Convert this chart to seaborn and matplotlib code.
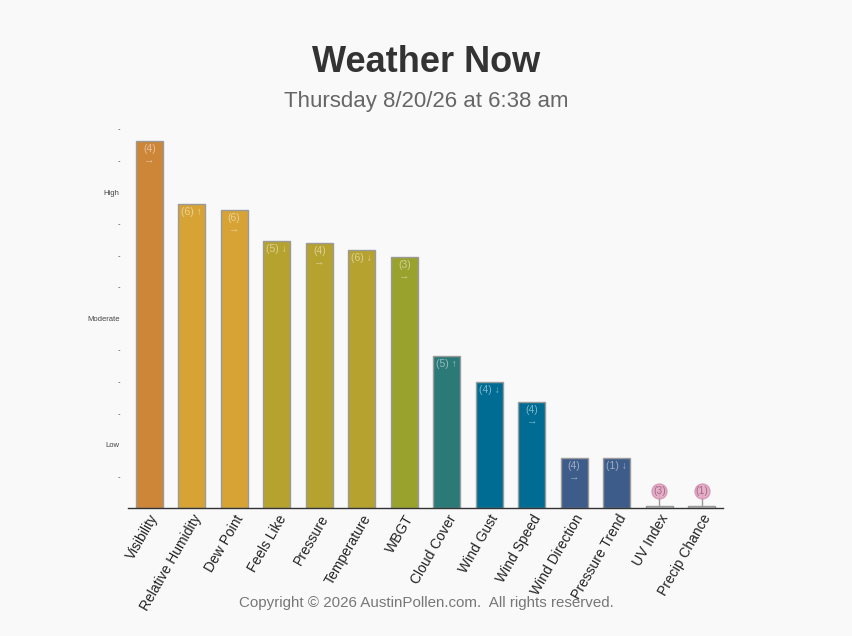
import matplotlib
matplotlib.use("Agg")
import matplotlib.pyplot as plt
import seaborn as sns
import pandas as pd

categories = ["Visibility", "Relative Humidity", "Dew Point", "Feels Like", "Pressure",
              "Temperature", "WBGT", "Cloud Cover", "Wind Gust", "Wind Speed",
              "Wind Direction", "Pressure Trend", "UV Index", "Precip Chance"]
values = [11.62, 9.63, 9.44, 8.45, 8.39, 8.17, 7.95, 4.81, 3.99, 3.36, 1.58, 1.58, 0.05, 0.05]
bar_labels = ["(4)\n→", "(6) ↑", "(6)\n→", "(5) ↓", "(4)\n→", "(6) ↓", "(3)\n→",
              "(5) ↑", "(4) ↓", "(4)\n→", "(4)\n→", "(1) ↓", "(3)", "(1)"]
colors = ["#CD8537", "#D6A334", "#D6A334", "#B6A22F", "#B6A22F", "#B6A22F", "#9AA22E",
          "#2B7A78", "#006C93", "#006C93", "#3E5C8A", "#3E5C8A", "#C8C8C8", "#C8C8C8"]
ytick_vals = list(range(1, 13))
ytick_text = ["-", "Low", "-", "-", "-", "Moderate", "-", "-", "-", "High", "-", "-"]

title = "Weather Now"
subtitle = "Thursday 8/20/26 at 6:38 am"
footer = "Copyright © 2026 AustinPollen.com.  All rights reserved."

sns.set_theme(style="white")
plt.rcParams["font.family"] = ["Liberation Sans", "DejaVu Sans"]
bg = "#F9F9F9"

fig = plt.figure(figsize=(8.52, 6.36), dpi=100, facecolor=bg)
ax = fig.add_axes([128 / 852, 1 - 508 / 636, 595 / 852, (508 - 129) / 636])
ax.set_facecolor(bg)

df = pd.DataFrame({"cat": categories, "val": values})
sns.barplot(data=df, x="cat", y="val", hue="cat", palette=colors, legend=False,
            width=0.635, edgecolor="#9A9A9A", linewidth=1.0, ax=ax, saturation=1)

ax.set_xlim(-0.5, len(categories) - 0.5)
ax.set_ylim(0, 12)
ax.set_xlabel("")
ax.set_ylabel("")

for i, (p, lab, v) in enumerate(zip(ax.patches, bar_labels, values)):
    xc = p.get_x() + p.get_width() / 2
    if v < 0.5:
        ax.plot([xc, xc], [0, 0.55], color="#999999", lw=1, zorder=3)
        ax.scatter([xc], [0.55], s=115, color="#E3A3C1", edgecolor="#D490B2",
                   linewidth=1, zorder=4, alpha=0.85)
        ax.text(xc, 0.55, lab, ha="center", va="center", fontsize=7.5,
                color="#A56A88", zorder=5)
    else:
        ax.annotate(lab, (xc, v), xytext=(0, -2), textcoords="offset points",
                    ha="center", va="top", fontsize=7.5, color="white", alpha=0.5,
                    linespacing=1.2)

ax.set_yticks(ytick_vals)
ax.set_yticklabels(ytick_text, fontsize=5.5, color="#444444")
ax.tick_params(axis="y", length=0, pad=6)
ax.tick_params(axis="x", length=0, pad=3)
ax.set_xticks(range(len(categories)))
ax.set_xticklabels(categories, rotation=60, ha="right", rotation_mode="anchor",
                   fontsize=10, color="#222222")

for s in ["left", "right", "top"]:
    ax.spines[s].set_visible(False)
ax.spines["bottom"].set_color("#333333")
ax.spines["bottom"].set_linewidth(1)

fig.text(0.5, 1 - 62 / 636, title, ha="center", va="center", fontsize=26,
         fontweight="bold", color="#333333")
fig.text(0.5, 1 - 101 / 636, subtitle, ha="center", va="center", fontsize=16,
         color="#666666")
fig.text(0.5, 1 - 603 / 636, footer, ha="center", va="center", fontsize=10.9,
         color="#777777", zorder=0)

fig.savefig("out.png", dpi=100, facecolor=bg)
